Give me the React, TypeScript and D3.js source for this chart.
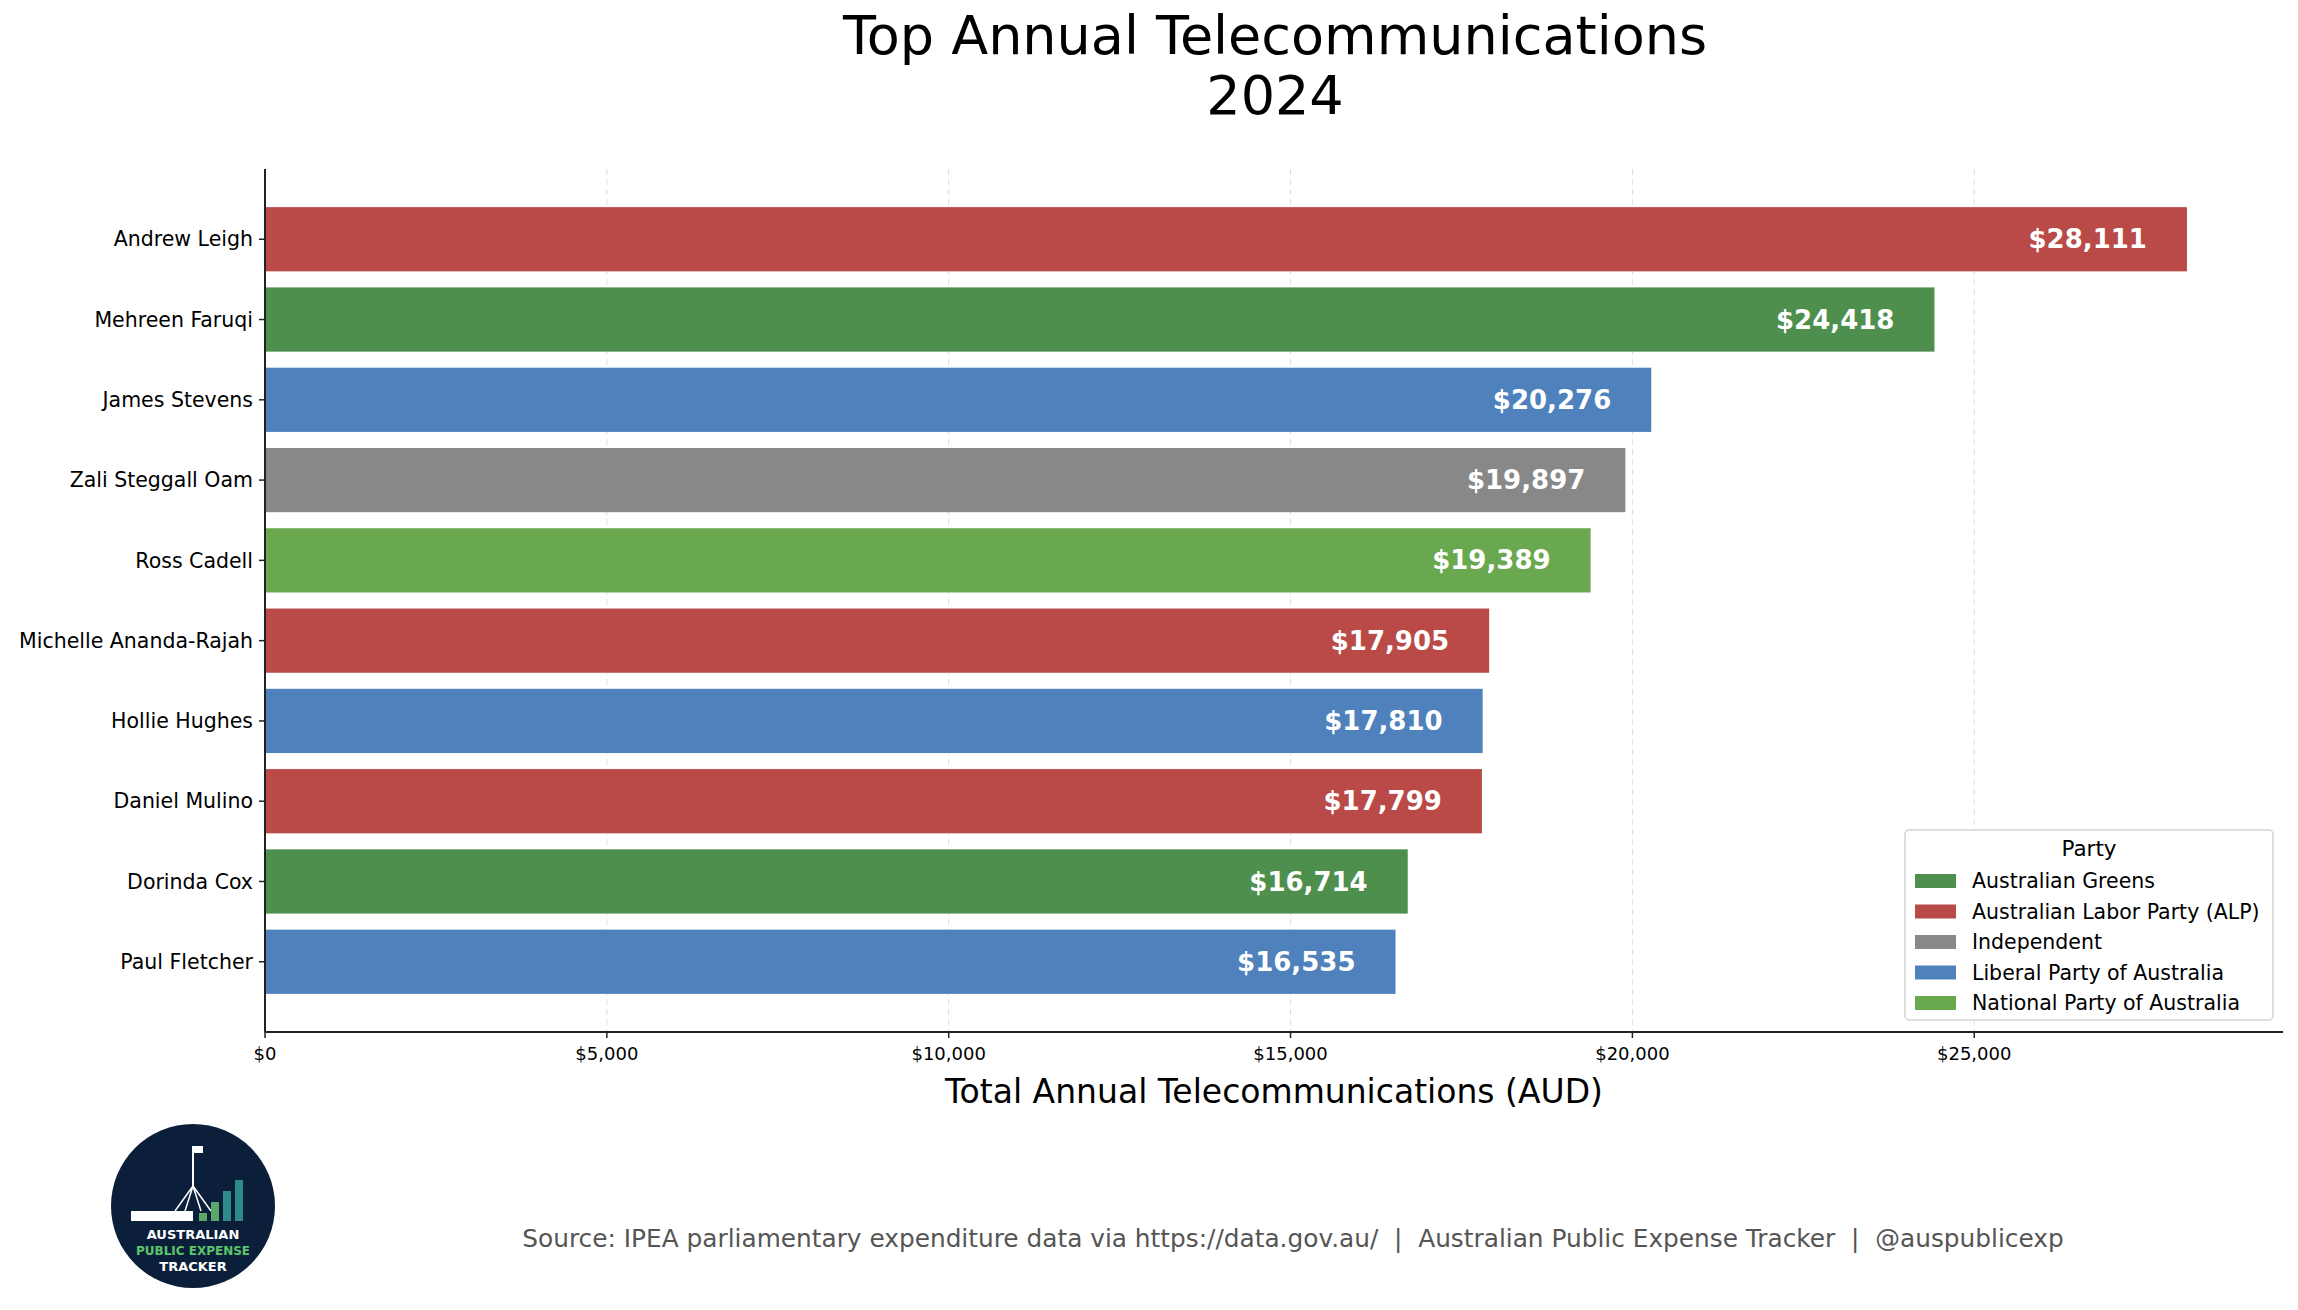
import * as d3 from "d3";

const names = ["Andrew Leigh", "Mehreen Faruqi", "James Stevens", "Zali Steggall Oam", "Ross Cadell", "Michelle Ananda-Rajah", "Hollie Hughes", "Daniel Mulino", "Dorinda Cox", "Paul Fletcher"];
const values = [28111, 24418, 20276, 19897, 19389, 17905, 17810, 17799, 16714, 16535];
const parties = ["ALP", "Greens", "Liberal", "Independent", "National", "ALP", "Liberal", "ALP", "Greens", "Liberal"];
const legendKeys = ["Greens", "ALP", "Independent", "Liberal", "National"];
const legendLabels = ["Australian Greens", "Australian Labor Party (ALP)", "Independent", "Liberal Party of Australia", "National Party of Australia"];
const partyColors: Record<string, string> = {
  Greens: "#4e8f4e",
  ALP: "#b94a48",
  Independent: "#888888",
  Liberal: "#4f81bd",
  National: "#6aa84f",
};
const xTicks = [0, 5000, 10000, 15000, 20000, 25000];

const W = 2298, H = 1310;
const left = 265, right = 2283, top = 169, bottom = 1032;
const font = "DejaVu Sans, sans-serif";

export default function App() {
  const x = d3.scaleLinear().domain([0, 29516]).range([left, right]);
  const y = d3.scaleLinear().domain([-0.875, names.length - 0.125]).range([top, bottom]);
  const step = y(1) - y(0);
  const bh = step * 0.8;
  const fmt = d3.format(",");

  const lgX = 1905, lgY = 830, lgW = 368, lgH = 190;

  return (
    <svg width={W} height={H} style={{ position: "absolute", left: 0, top: 0, background: "#fff" }} fontFamily={font}>
      <text x={1275} y={54} textAnchor="middle" fontSize={54}>Top Annual Telecommunications</text>
      <text x={1275} y={114} textAnchor="middle" fontSize={54}>2024</text>

      {xTicks.map((t) => (
        <line key={"g" + t} x1={x(t)} x2={x(t)} y1={top} y2={bottom} stroke="#ddd" strokeDasharray="6,4" strokeWidth={1} />
      ))}

      {names.map((n, i) => (
        <g key={n}>
          <rect x={x(0)} y={y(i) - bh / 2} width={x(values[i]) - x(0)} height={bh} fill={partyColors[parties[i]]} />
          <text x={x(values[i]) - 40} y={y(i)} dy="0.35em" textAnchor="end" fill="#fff" fontWeight="bold" fontSize={26}>
            ${fmt(values[i])}
          </text>
          <line x1={left - 6} x2={left} y1={y(i)} y2={y(i)} stroke="#222" strokeWidth={1.5} />
          <text x={left - 12} y={y(i)} dy="0.35em" textAnchor="end" fontSize={20.5}>{n}</text>
        </g>
      ))}

      <line x1={left} x2={left} y1={top} y2={bottom} stroke="#222" strokeWidth={2} />
      <line x1={left} x2={right} y1={bottom} y2={bottom} stroke="#222" strokeWidth={2} />
      {xTicks.map((t) => (
        <g key={"t" + t}>
          <line x1={x(t)} x2={x(t)} y1={bottom} y2={bottom + 6} stroke="#222" strokeWidth={1.5} />
          <text x={x(t)} y={bottom + 28} textAnchor="middle" fontSize={18}>${fmt(t)}</text>
        </g>
      ))}
      <text x={1274} y={1103} textAnchor="middle" fontSize={33}>Total Annual Telecommunications (AUD)</text>

      <rect x={lgX} y={lgY} width={lgW} height={lgH} rx={4} fill="#fff" fillOpacity={0.85} stroke="#d4d4d4" strokeWidth={1.5} />
      <text x={lgX + lgW / 2} y={lgY + 26} textAnchor="middle" fontSize={21.5}>Party</text>
      {legendKeys.map((k, i) => (
        <g key={k}>
          <rect x={lgX + 10} y={lgY + 44 + i * 30.5} width={41} height={14} fill={partyColors[k]} />
          <text x={lgX + 67} y={lgY + 51 + i * 30.5} dy="0.35em" fontSize={20.5}>{legendLabels[i]}</text>
        </g>
      ))}

      <g transform="translate(193,1206)">
        <circle r={82} fill="#0b1f3a" />
        <line x1={0} y1={-60} x2={0} y2={-20} stroke="#fff" strokeWidth={2} />
        <rect x={0} y={-60} width={10} height={7} fill="#fff" />
        <path d="M0,-20 L-18,5 M0,-20 L18,5 M0,-20 L-8,5 M0,-20 L8,5" stroke="#fff" strokeWidth={1.5} fill="none" />
        <rect x={-62} y={5} width={62} height={10} fill="#fff" />
        {[0, 1, 2, 3].map((i) => (
          <rect key={i} x={6 + i * 12} y={15 - (8 + i * 11)} width={8} height={8 + i * 11} fill={i < 2 ? "#5aa86a" : "#2f8a8a"} />
        ))}
        <text y={33} textAnchor="middle" fill="#fff" fontSize={13} fontWeight="bold">AUSTRALIAN</text>
        <text y={49} textAnchor="middle" fill="#5cc46a" fontSize={12} fontWeight="bold">PUBLIC EXPENSE</text>
        <text y={65} textAnchor="middle" fill="#fff" fontSize={13} fontWeight="bold">TRACKER</text>
      </g>

      <text x={1293} y={1247} textAnchor="middle" fontSize={24.8} fill="#555" style={{ whiteSpace: "pre" }}>
        {"Source: IPEA parliamentary expenditure data via https://data.gov.au/  |  Australian Public Expense Tracker  |  @auspublicexp"}
      </text>
    </svg>
  );
}
